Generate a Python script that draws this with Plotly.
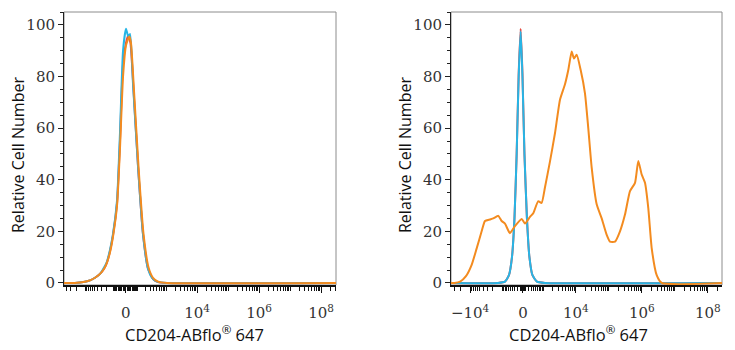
import numpy as np
import plotly.graph_objects as go
from plotly.subplots import make_subplots

# ---- histogram data: fluorescence intensity vs relative cell number ----
# Left panel (isotype / unstained controls)
left_cyan_x = [-5000, -2160, -1025, -705, -484, -330, -240, -193, -144, -109, -69, -44, -20, 2, 19, 33, 57, 105, 166, 252, 346, 507, 1070, 5e8]
left_cyan_y = [0, 0, 0.5, 1, 2, 3.5, 6, 8, 13, 19, 32, 58, 90, 98.5, 95.5, 96.5, 77, 45, 19, 5.5, 2, 0.5, 0, 0]

left_red_x = [-5000, -2160, -1025, -705, -484, -330, -240, -188, -144, -109, -69, -44, -20, 2, 19, 36, 61, 105, 166, 252, 373, 546, 1070, 5e8]
left_red_y = [0, 0, 0.5, 1, 2, 3.5, 5.5, 8, 12.5, 18.5, 31, 55, 85, 93, 96, 93, 75, 45, 19, 5.5, 1.5, 0.3, 0, 0]

left_orange_x = [-5000, -2160, -1025, -705, -484, -330, -240, -188, -144, -109, -69, -44, -20, 2, 27, 40, 66, 110, 174, 263, 373, 546, 1070, 5e8]
left_orange_y = [0, 0, 0.5, 1, 2, 3.5, 5.5, 8, 12, 18, 30, 52, 80, 92, 95.5, 93, 74, 45, 19, 6, 2, 0.5, 0, 0]

# Right panel (stained sample vs controls)
right_cyan_x = [-40000, -1385, -805, -570, -422, -314, -227, -152, -80, -17, 52, 141, 234, 356, 570, 1105, 3e8]
right_cyan_y = [0, 0, 0.5, 3, 10, 25, 50, 80, 97.5, 80, 50, 25, 10, 3, 0.5, 0, 0]

right_red_x = [-40000, -1385, -805, -570, -422, -314, -227, -152, -80, -17, 52, 141, 234, 356, 570, 1105, 3e8]
right_red_y = [0, 0, 0.5, 3, 10, 25, 50, 81, 98.5, 81, 50, 25, 10, 3, 0.5, 0, 0]

right_orange_x = [-40000, -30000, -20000, -13500, -8950, -6300, -4450, -3520, -2475, -1955, -1355, -1050,
                  -805, -520, -294, -45, 70, 254, 391, 640, 850, 1105, 1605, 2305, 3290, 4675, 5890,
                  7470, 8775, 10600, 14000, 18900, 23800, 30200, 42800, 60700, 86000, 108000, 153500,
                  217500, 308000, 437000, 620000, 780000, 989000, 1245000, 1566000, 1990000, 2817000,
                  3990000, 3e8]
right_orange_y = [0, 0, 0.5, 2.5, 7, 13.4, 20, 24, 24.6, 25, 26, 24,
                  23, 19.3, 22, 24.8, 23, 25.6, 27, 31.7, 31, 37, 47, 58, 71, 77, 82.5,
                  89.7, 87, 88.4, 82.5, 73.5, 60, 44.7, 30.5, 25, 18.6, 16, 16,
                  20, 26.5, 35.6, 38.8, 47.3, 42, 38.8, 29, 13.4, 3,
                  0, 0]

# tick labels
left_tick_vals = [0, 1e4, 1e6, 1e8]
left_tick_text = ["0", "10<sup>4</sup>", "10<sup>6</sup>", "10<sup>8</sup>"]
right_tick_vals = [-1e4, 0, 1e4, 1e6, 1e8]
right_tick_text = ["\u221210<sup>4</sup>", "0", "10<sup>4</sup>", "10<sup>6</sup>", "10<sup>8</sup>"]

CYAN = "#27b5e6"
RED = "#e5493f"
ORANGE = "#f38b1f"

LEFT_W = 100    # linear-region width of the biexponential display (left)
RIGHT_W = 500   # linear-region width of the biexponential display (right)


def biex(v, w):
    """asinh display transform used for flow cytometry axes (in decades)."""
    return np.arcsinh(np.asarray(v, dtype=float) / w) / np.log(10)


def minor_ticks(w, lo, hi, labelled):
    out = []
    for n in range(1, 9):
        for k in range(1, 10):
            for s in (1, -1):
                v = s * k * 10 ** n
                u = float(biex(v, w))
                if lo <= u <= hi and v not in labelled:
                    out.append(u)
    return out


fig = make_subplots(rows=1, cols=2)

LINE_W = 2
SMOOTH = 0.5

fig.add_trace(go.Scatter(x=biex(left_red_x, LEFT_W), y=left_red_y, mode="lines",
                         line=dict(color=RED, width=LINE_W, shape="spline", smoothing=SMOOTH)), 1, 1)
fig.add_trace(go.Scatter(x=biex(left_cyan_x, LEFT_W), y=left_cyan_y, mode="lines",
                         line=dict(color=CYAN, width=LINE_W, shape="spline", smoothing=SMOOTH)), 1, 1)
fig.add_trace(go.Scatter(x=biex(left_orange_x, LEFT_W), y=left_orange_y, mode="lines",
                         line=dict(color=ORANGE, width=LINE_W, shape="spline", smoothing=SMOOTH)), 1, 1)

fig.add_trace(go.Scatter(x=biex(right_red_x, RIGHT_W), y=right_red_y, mode="lines",
                         line=dict(color=RED, width=LINE_W, shape="spline", smoothing=SMOOTH)), 1, 2)
fig.add_trace(go.Scatter(x=biex(right_cyan_x, RIGHT_W), y=right_cyan_y, mode="lines",
                         line=dict(color=CYAN, width=LINE_W, shape="spline", smoothing=SMOOTH)), 1, 2)
fig.add_trace(go.Scatter(x=biex(right_orange_x, RIGHT_W), y=right_orange_y, mode="lines",
                         line=dict(color=ORANGE, width=LINE_W, shape="spline", smoothing=SMOOTH)), 1, 2)

W, H = 735, 350
tick_font = dict(family="DejaVu Serif", size=15, color="#333333")
ytitle_font = dict(family="Open Sans", size=16, color="#111111")
xtitle_font = dict(family="Open Sans", size=16.5, color="#111111")

panels = [
    dict(col=1, w=LEFT_W, rng=[-1.99, 6.78], px=(64, 336), vals=left_tick_vals, text=left_tick_text),
    dict(col=2, w=RIGHT_W, rng=[-2.18, 6.03], px=(451, 722), vals=right_tick_vals, text=right_tick_text),
]

for p in panels:
    xname = "xaxis" if p["col"] == 1 else "xaxis2"
    yname = "yaxis" if p["col"] == 1 else "yaxis2"
    fig.update_layout(**{
        xname: dict(
            domain=[p["px"][0] / W, p["px"][1] / W], range=p["rng"],
            tickmode="array", tickvals=[float(biex(v, p["w"])) for v in p["vals"]], ticktext=p["text"],
            ticks="outside", ticklen=6, tickwidth=1.3, tickcolor="#111111",
            minor=dict(tickmode="array", tickvals=minor_ticks(p["w"], *p["rng"], p["vals"]),
                       ticks="outside", ticklen=4, tickwidth=1, tickcolor="#111111"),
            showline=True, linecolor="#111111", linewidth=2,
            showgrid=False, zeroline=False, tickfont=tick_font,
            ticklabelstandoff=7, automargin=False, fixedrange=True,
        ),
        yname: dict(
            domain=[1 - 285 / H, 1 - 12 / H], range=[-0.8, 105],
            tickmode="array", tickvals=[0, 20, 40, 60, 80, 100],
            ticks="outside", ticklen=5, tickwidth=1, tickcolor="#222222",
            minor=dict(dtick=5, ticks="outside", ticklen=3, tickwidth=1, tickcolor="#222222"),
            showline=True, linecolor="#222222", linewidth=1,
            showgrid=False, zeroline=False, tickfont=tick_font,
            automargin=False, fixedrange=True,
        ),
    })
    xref = "x" if p["col"] == 1 else "x2"
    yref = "y" if p["col"] == 1 else "y2"
    # light frame around the plotting area
    fig.add_shape(type="rect", xref=f"{xref} domain", yref=f"{yref} domain",
                  x0=0, x1=1, y0=0, y1=1, line=dict(color="#8c8c8c", width=1), layer="below")

# axis titles
for cx, ty in [(194, 18), (578, 405)]:
    fig.add_annotation(x=cx / W, y=1 - 334 / H, xref="paper", yref="paper",
                       text="CD204-ABflo<sup>®</sup> 647", showarrow=False,
                       font=xtitle_font, xanchor="center", yanchor="middle")
    fig.add_annotation(x=ty / W, y=1 - 155 / H, xref="paper", yref="paper",
                       text="Relative Cell Number", showarrow=False, textangle=-90,
                       font=ytitle_font, xanchor="center", yanchor="middle")

fig.update_layout(
    width=W, height=H, margin=dict(l=0, r=0, t=0, b=0),
    showlegend=False, plot_bgcolor="white", paper_bgcolor="white",
)

fig.write_html("out.html")
